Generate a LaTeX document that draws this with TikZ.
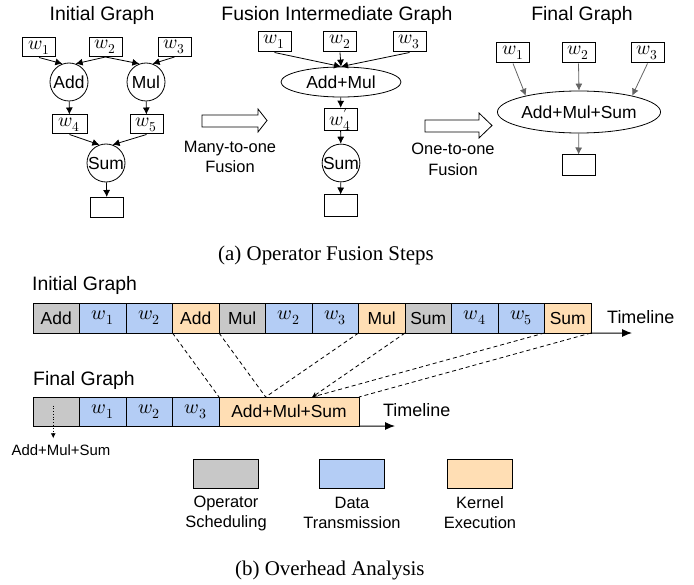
\documentclass[tikz,border=0pt]{standalone}
\usepackage{fontspec}
\usepackage{unicode-math}
\setmainfont{Liberation Sans}
\setmathfont{Latin Modern Math}
\newfontfamily\capfont{Liberation Serif}
\usetikzlibrary{arrows.meta,shapes.geometric,calc}

\definecolor{schedgray}{RGB}{200,200,200}
\definecolor{xferblue}{RGB}{180,205,245}
\definecolor{kernorange}{RGB}{255,222,180}
\definecolor{edgegray}{RGB}{100,100,100}

\begin{document}
\begin{tikzpicture}[x=1bp,y=-1bp,
  title/.style={font=\fontsize{19.5}{22}\selectfont, inner sep=0},
  lbl/.style={font=\fontsize{16.5}{20.5}\selectfont, align=center, inner sep=0},
  wbox/.style={draw, line width=1bp, minimum width=33bp, minimum height=19bp,
    inner sep=0, font=\fontsize{19.5}{20}\selectfont},
  outbox/.style={draw, line width=1bp, minimum width=33bp, minimum height=20bp, inner sep=0},
  op/.style={draw, circle, line width=0.8bp, minimum size=38bp, inner sep=0,
    font=\fontsize{17.5}{19}\selectfont},
  fused/.style={draw, ellipse, line width=0.8bp, inner sep=0,
    font=\fontsize{17.5}{19}\selectfont},
  flow/.style={-{Latex[length=7bp,width=7bp]}, line width=0.8bp},
  grayflow/.style={flow, edgegray},
  bigarrow/.style={draw, line width=0.8bp, fill=white},
  cell/.style={draw, line width=1bp, minimum width=46.5bp, minimum height=30bp,
    inner sep=0, outer sep=0, font=\fontsize{17.5}{19}\selectfont},
  sched/.style={cell, fill=schedgray},
  xfer/.style={cell, fill=xferblue, font=\fontsize{20}{21}\selectfont},
  kern/.style={cell, fill=kernorange},
  axis/.style={-{Latex[length=10bp,width=8bp]}, line width=1bp},
  link/.style={dashed, dash pattern=on 4bp off 3bp, line width=0.8bp},
  captext/.style={font=\capfont\fontsize{21}{24}\selectfont, inner sep=0, anchor=west},
  swatch/.style={draw, line width=1bp, minimum width=65bp, minimum height=29bp, inner sep=0}
]
\useasboundingbox (0,0) rectangle (694,585);

% ---------------- (a) initial graph ----------------
\node[title] (i-title) at (102,15) {Initial Graph};
\node[wbox] (i-w1) at (39,47.5) {$w_1$};
\node[wbox] (i-w2) at (105.5,47) {$w_2$};
\node[wbox] (i-w3) at (174.5,47) {$w_3$};
\node[op] (i-add) at (69,82) {Add};
\node[op] (i-mul) at (146,82) {Mul};
\node[wbox, minimum width=35bp] (i-w4) at (69.5,124.5) {$w_4$};
\node[wbox] (i-w5) at (146.5,124.5) {$w_5$};
\node[op] (i-sum) at (106,163) {Sum};
\node[outbox] (i-out) at (107,207.5) {};

\draw[flow] (i-w1.south) -- (i-add.110);
\draw[flow] (i-w2.south) -- (i-add.70);
\draw[flow] (i-w2.south) -- (i-mul.110);
\draw[flow] (i-w3.south) -- (i-mul.70);
\draw[flow] (i-add) -- (i-w4);
\draw[flow] (i-mul) -- (i-w5);
\draw[flow] (i-w4.south) -- (i-sum.110);
\draw[flow] (i-w5.south) -- (i-sum.70);
\draw[flow] (i-sum) -- (i-out);

% many-to-one step
\draw[bigarrow] (202,115) -- (258,115) -- (258,109) -- (267,120.5) -- (258,132)
  -- (258,127) -- (202,127) -- cycle;
\node[lbl] (m2o) at (230,157) {Many-to-one\\Fusion};

% ---------------- (a) intermediate graph ----------------
\node[title] (m-title) at (337,15) {Fusion Intermediate Graph};
\node[wbox, minimum height=20bp] (m-w1) at (274.5,42) {$w_1$};
\node[wbox, minimum height=20bp] (m-w2) at (340,42) {$w_2$};
\node[wbox, minimum height=20bp] (m-w3) at (409.5,42) {$w_3$};
\node[fused, minimum width=120bp, minimum height=30bp] (m-am) at (341,82) {Add+Mul};
\node[wbox] (m-w4) at (340.5,119.5) {$w_4'$};
\node[op, minimum size=34bp] (m-sum) at (341,163) {Sum};
\node[outbox, minimum height=21bp] (m-out) at (340.5,205.5) {};

\draw[flow] (m-w1.south) -- (m-am.north);
\draw[flow] (m-w2.south) -- (m-am.north);
\draw[flow] (m-w3.south) -- (m-am.north);
\draw[flow] (m-am) -- (m-w4);
\draw[flow] (m-w4) -- (m-sum);
\draw[flow] (m-sum) -- (m-out);

% one-to-one step
\draw[bigarrow] (425,120) -- (479,120) -- (479,113) -- (492,125.5) -- (479,138)
  -- (479,132) -- (425,132) -- cycle;
\node[lbl] (o2o) at (453,159.5) {One-to-one\\Fusion};

% ---------------- (a) final graph ----------------
\node[title] (f-title) at (582,15) {Final Graph};
\node[wbox, minimum height=20bp] (f-w1) at (513,53) {$w_1$};
\node[wbox, minimum height=20bp] (f-w2) at (578.5,53) {$w_2$};
\node[wbox, minimum height=20bp] (f-w3) at (647.5,53) {$w_3$};
\node[fused, minimum width=138bp, minimum height=42bp] (f-ams) at (579,112) {Add+Mul+Sum};
\node[outbox, minimum height=21bp] (f-out) at (578.5,165.5) {};

\draw[grayflow] (f-w1.south) -- (f-ams.163);
\draw[grayflow] (f-w2.south) -- (f-ams.north);
\draw[grayflow] (f-w3.south) -- (f-ams.17);
\draw[grayflow] (f-ams) -- (f-out);

\node[captext] (cap-a) at (218,255) {(a) Operator Fusion Steps};

% ---------------- (b) timelines ----------------
\node[title, anchor=west] (ti-title) at (32,285) {Initial Graph};
\node[sched] (t1)  at (56.25,318)  {Add};
\node[xfer]  (t2)  at (102.75,318) {$w_1$};
\node[xfer]  (t3)  at (149.25,318) {$w_2$};
\node[kern]  (t4)  at (195.75,318) {Add};
\node[sched] (t5)  at (242.25,318) {Mul};
\node[xfer]  (t6)  at (288.75,318) {$w_2$};
\node[xfer]  (t7)  at (335.25,318) {$w_3$};
\node[kern]  (t8)  at (381.75,318) {Mul};
\node[sched] (t9)  at (428.25,318) {Sum};
\node[xfer]  (t10) at (474.75,318) {$w_4$};
\node[xfer]  (t11) at (521.25,318) {$w_5$};
\node[kern]  (t12) at (567.75,318) {Sum};
\coordinate (t-end) at (632,333);
\draw[axis] (t12.south east) -- (t-end);
\node[anchor=west, inner sep=0, font=\fontsize{18}{20}\selectfont] (t-lbl) at (607,317) {Timeline};

\node[title, anchor=west] (tf-title) at (33,380) {Final Graph};
\node[sched, minimum height=29bp] (b1) at (56.25,411.5) {};
\node[xfer, minimum height=29bp]  (b2) at (102.75,411.5) {$w_1$};
\node[xfer, minimum height=29bp]  (b3) at (149.25,411.5) {$w_2$};
\node[xfer, minimum height=29bp]  (b4) at (195.75,411.5) {$w_3$};
\node[kern, minimum height=29bp, minimum width=140bp] (ams) at (289,411.5) {Add+Mul+Sum};
\coordinate (b-end) at (395,426);
\draw[axis] (ams.south east) -- (b-end);
\node[anchor=west, inner sep=0, font=\fontsize{18}{20}\selectfont] (b-lbl) at (383,410) {Timeline};

% where each piece of the initial timeline goes in the fused kernel
\coordinate (ams-a) at ($(ams.north west)!1/3!(ams.north east)$);
\coordinate (ams-b) at ($(ams.north west)!2/3!(ams.north east)$);
\draw[link] (t4.south west) -- (ams.north west);
\draw[link] (t5.south west) -- (ams-a);
\draw[link] (t8.south west) -- (ams-a);
\draw[link, -{Stealth[length=5bp,width=5bp]}] (t9.south west) -- (ams-b);
\draw[link] (t12.south west) -- (ams-b);
\draw[link] (t12.south east) -- (ams.north east);

% single scheduling call of the fused operator
\node[inner sep=0, font=\fontsize{15}{17}\selectfont] (ams-note) at (61,450) {Add+Mul+Sum};
\coordinate (b1-tap) at ($(b1.center)+(-3,-6)$);
\draw[dotted, line width=0.8bp, -{Latex[length=5bp,width=5bp]}, shorten >=6bp]
  (b1-tap) -- (b1-tap |- ams-note.north);

% legend
\node[swatch, fill=schedgray] (lg-s) at (225.5,473.5) {};
\node[swatch, fill=xferblue]  (lg-d) at (352,473.5) {};
\node[swatch, fill=kernorange] (lg-k) at (479.5,473.5) {};
\node[lbl, font=\fontsize{16.5}{20}\selectfont] (lg-s-txt) at (226,513) {Operator\\Scheduling};
\node[lbl, font=\fontsize{16.5}{20}\selectfont] (lg-d-txt) at (352,513) {Data\\Transmission};
\node[lbl, font=\fontsize{16.5}{20}\selectfont] (lg-k-txt) at (480,513) {Kernel\\Execution};

\node[captext] (cap-b) at (235,570) {(b) Overhead Analysis};
\end{tikzpicture}
\end{document}
